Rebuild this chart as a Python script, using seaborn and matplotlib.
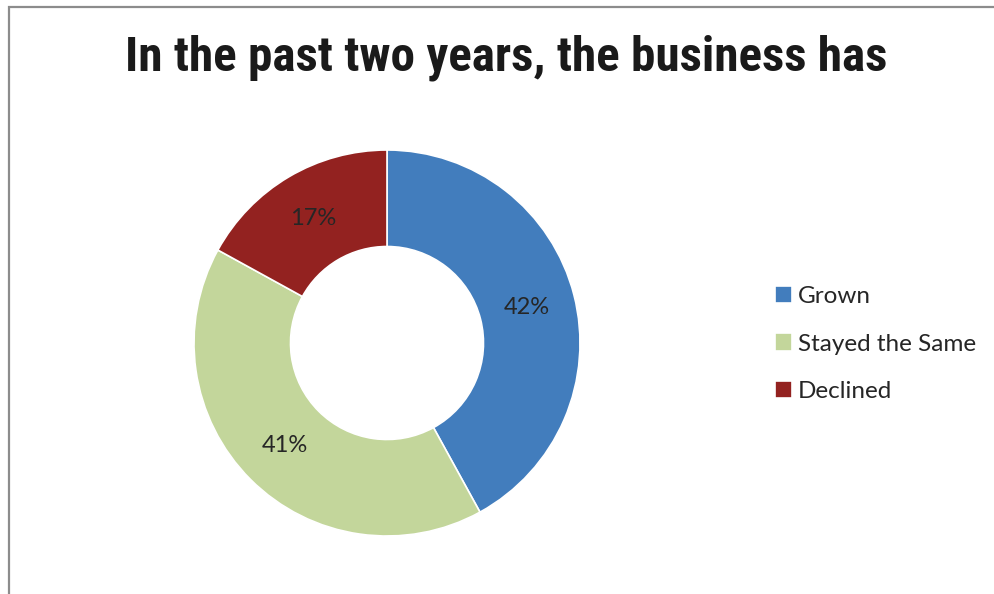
import matplotlib
matplotlib.use("Agg")
import matplotlib.pyplot as plt
import seaborn as sns
from matplotlib.patches import Rectangle
from matplotlib import font_manager

categories = ["Grown", "Stayed the Same", "Declined"]
shares = [42, 41, 17]
colors = ["#427DBD", "#C3D69B", "#932220"]
title_text = "In the past two years, the business has"

sns.set_theme(style="white")
plt.rcParams["font.family"] = ["Lato", "DejaVu Sans"]


def weight_num(w):
    if isinstance(w, (int, float)):
        return w
    return {"bold": 700, "semibold": 600, "demibold": 600, "heavy": 800,
            "black": 900, "extra bold": 800}.get(str(w).lower(), 400)


def is_condensed(f):
    return ("Condensed" in f.name or "Narrow" in f.name
            or (isinstance(f.stretch, str) and "condensed" in f.stretch))


# prefer an upright bold condensed face for the title when one is installed
fonts = font_manager.fontManager.ttflist
cands = [f for f in fonts if is_condensed(f) and f.style == "normal"
         and 600 <= weight_num(f.weight) <= 750]
names = sorted({f.name for f in cands},
               key=lambda n: (0 if "Roboto" in n else 1 if "Noto" in n or "Open" in n else 2, n))
if names:
    title_family, title_weight = [names[0], "DejaVu Sans"], "bold"
else:
    upright = sorted({f.name for f in fonts if is_condensed(f) and f.style == "normal"})
    title_family = [upright[0], "DejaVu Sans"] if upright else ["Lato", "DejaVu Sans"]
    title_weight = "bold"

W, H = 995, 594
fig = plt.figure(figsize=(W / 100, H / 100), dpi=100)
fig.patch.set_facecolor("white")

# chart frame (left and top edges visible)
fig.add_artist(Rectangle((9 / W, -0.1), 1.2, (H - 7) / H + 0.1, transform=fig.transFigure,
                         fill=False, edgecolor="#8c8c8c", linewidth=1.6))

# donut axes centred at (387, 343) px, outer radius 193 px
cx, cy, half = 387, H - 343, 200
ax = fig.add_axes([(cx - half) / W, (cy - half) / H, 2 * half / W, 2 * half / H])
wedges, _, autotexts = ax.pie(
    shares, colors=colors, startangle=90, counterclock=False,
    wedgeprops=dict(width=0.5, edgecolor="white", linewidth=1.2),
    autopct=lambda p: f"{p:.0f}%", pctdistance=0.75,
    textprops=dict(fontsize=17, color="#262626"),
)
lim = half / 193
ax.set_xlim(-lim, lim)
ax.set_ylim(-lim, lim)
ax.set_aspect("equal")
ax.axis("off")

title = fig.text(506 / W, 1 - 58 / H, title_text, ha="center", va="center",
                 fontsize=30, fontweight=title_weight, family=title_family, color="#1a1a1a")
# scale the title so that it spans about 763 px
renderer = fig.canvas.get_renderer()
w = title.get_window_extent(renderer).width
title.set_fontsize(min(44, 30 * 763 / w))

fig.legend(wedges, categories, loc="center left", bbox_to_anchor=(775 / W, 1 - 344 / H),
           frameon=False, fontsize=17.5, handlelength=0.7, handleheight=0.7,
           handletextpad=0.25, labelspacing=1.1, borderpad=0, borderaxespad=0)

fig.savefig("out.png", dpi=100)
